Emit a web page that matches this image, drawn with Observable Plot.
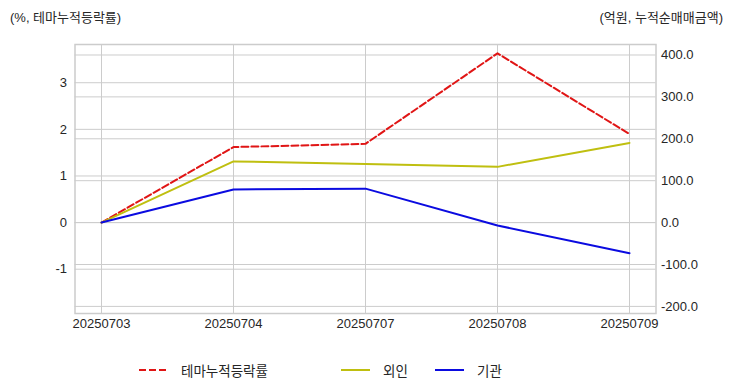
<!DOCTYPE html>
<html>
<head>
<meta charset="utf-8">
<script src="https://cdn.jsdelivr.net/npm/d3@7"></script>
<script src="https://cdn.jsdelivr.net/npm/@observablehq/plot@0.6"></script>
<style>
  html, body { margin: 0; padding: 0; background: #fff; }
  #wrap { position: relative; width: 732px; height: 392px; overflow: hidden;
          font-family: "Liberation Sans", "Noto Sans CJK KR", sans-serif; color: #262626; }
  #chart { position: absolute; left: 0; top: 0; }
  .ttl { position: absolute; top: 7px; font-size: 13px; white-space: nowrap; color: #262626; }
  #legend { position: absolute; top: 361px; left: 0; width: 732px; height: 20px; font-size: 13.5px; color: #262626; }
  .lg { position: absolute; top: 0; display: flex; align-items: center; height: 18px; white-space: nowrap; }
  .lg svg { margin-right: 13px; }
</style>
</head>
<body>
<div id="wrap">
  <div id="chart"></div>
  <div class="ttl" style="left:10px">(%, 테마누적등락률)</div>
  <div class="ttl" style="right:9px">(억원, 누적순매매금액)</div>
  <div id="legend"></div>
</div>
<script>
// ---- data ----
const dates = ["20250703", "20250704", "20250707", "20250708", "20250709"];
const themeReturn = [0, 1.62, 1.69, 3.63, 1.90];      // % (left axis)
const foreignNet = [0, 146, 140, 133, 190];           // 억원 (right axis)
const institutionNet = [0, 79, 81, -7, -73];          // 억원 (right axis)
const leftTicks = [-1, 0, 1, 2, 3];
const rightTicks = [-200, -100, 0, 100, 200, 300, 400];
const seriesNames = ["테마누적등락률", "외인", "기관"];
const seriesColors = ["#e01515", "#bfbf10", "#0b0be0"];

// ---- dual-axis mapping ----
const leftDomain = [-1.95, 3.82];
const rightDomain = [-217, 425];
const k = (leftDomain[1] - leftDomain[0]) / (rightDomain[1] - rightDomain[0]);

const rows = dates.map((d, i) => ({
  date: d, theme: themeReturn[i], foreign: foreignNet[i], inst: institutionNet[i]
}));

const grid = "#cccccc";
const chart = Plot.plot({
  width: 732,
  height: 392,
  marginTop: 44,
  marginBottom: 79,
  marginLeft: 74.5,
  marginRight: 76.5,
  style: { fontFamily: "Liberation Sans, Noto Sans CJK KR, sans-serif", fontSize: "13px", color: "#262626", background: "#fff" },
  x: { type: "point", domain: dates, padding: 0.2 },
  y: { domain: leftDomain },
  marks: [
    Plot.gridY(leftTicks, { stroke: grid, strokeOpacity: 1, strokeWidth: 1 }),
    Plot.gridY(rightTicks.map(v => v * k), { stroke: grid, strokeOpacity: 1, strokeWidth: 1 }),
    Plot.gridX(dates, { stroke: grid, strokeOpacity: 1, strokeWidth: 1 }),
    Plot.frame({ stroke: grid, strokeWidth: 1.5 }),
    Plot.lineY(rows, { x: "date", y: "theme", stroke: seriesColors[0], strokeWidth: 2, strokeDasharray: "7,3" }),
    Plot.lineY(rows, { x: "date", y: d => d.foreign * k, stroke: seriesColors[1], strokeWidth: 2 }),
    Plot.lineY(rows, { x: "date", y: d => d.inst * k, stroke: seriesColors[2], strokeWidth: 2 }),
    Plot.axisY(leftTicks, { anchor: "left", tickSize: 0, tickPadding: 8, label: null, fontSize: 13, tickFormat: d => String(d) }),
    Plot.axisY(rightTicks.map(v => v * k), { anchor: "right", tickSize: 0, tickPadding: 5, label: null, fontSize: 13,
      tickFormat: d => Math.round(d / k).toFixed(1) }),
    Plot.axisX(dates, { tickSize: 0, tickPadding: 5, label: null, fontSize: 13 })
  ]
});
document.getElementById("chart").appendChild(chart);

// ---- legend ----
const legend = document.getElementById("legend");
const legendX = [139, 341, 435];
seriesNames.forEach((name, i) => {
  const item = document.createElement("div");
  item.className = "lg";
  item.style.left = legendX[i] + "px";
  const dash = i === 0 ? ' stroke-dasharray="7,3"' : "";
  item.innerHTML = `<svg width="29" height="10"><line x1="0" y1="5" x2="29" y2="5" stroke="${seriesColors[i]}" stroke-width="2"${dash}/></svg><span>${name}</span>`;
  legend.appendChild(item);
});
</script>
</body>
</html>
